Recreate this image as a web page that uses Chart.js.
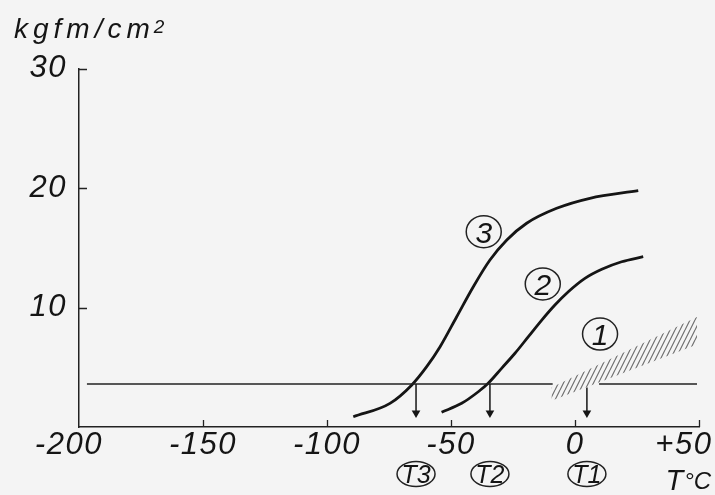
<!DOCTYPE html>
<html>
<head>
<meta charset="utf-8">
<script src="https://cdn.jsdelivr.net/npm/chart.js@4/dist/chart.umd.min.js"></script>
<style>
  html, body { margin: 0; padding: 0; background: #f4f4f4; }
  #wrap { width: 715px; height: 495px; }
</style>
</head>
<body>
<div id="wrap"><canvas id="c" width="715" height="495"></canvas></div>
<script>
// Axis ticks
const xTicks = [-200, -150, -100, -50, 0, 50];
const yTicks = [0, 10, 20, 30];

// Curve 3 (impact strength vs temperature)
const curve3X = [-89.4, -74.6, -65.9, -59.8, -54.4, -47.7, -41.0, -34.3, -27.5, -19.5, -7.4, 6.0, 25.5];
const curve3Y = [0.86, 1.98, 3.5, 5.05, 6.72, 9.23, 11.74, 13.97, 15.65, 17.05, 18.3, 19.14, 19.78];

// Curve 2
const curve2X = [-53.8, -45.7, -39.0, -35.0, -29.6, -24.2, -18.8, -13.4, -8.1, -2.7, 4.0, 10.8, 18.8, 27.5];
const curve2Y = [1.23, 1.98, 2.95, 3.66, 4.91, 6.17, 7.56, 8.95, 10.21, 11.32, 12.44, 13.2, 13.83, 14.25];

// Band 1 (scatter range), lower and upper edges
const bandX = [-9.5, 49.2];
const bandLow = [2.2, 6.9];
const bandHigh = [3.3, 9.2];

// Threshold level line, broken where band 1 crosses it
const levelY = 3.6;
const levelX = [-196.8, -9.0, null, 9.7, 49.2];

// Transition temperatures
const transNames = ['T3', 'T2', 'T1'];
const transX = [-64.1, -34.3, 4.8];
const transTop = [3.6, 3.6, 3.3];
const arrowHeadY = 1.17;

// Curve labels
const curveNames = ['1', '2', '3'];
const curveLabelX = [10.1, -13.0, -36.8];
const curveLabelY = [7.78, 11.97, 16.34];

const unitLabel = 'kgfm/cm';
const unitPower = '2';
const tempSymbol = 'T';
const tempUnit = '°C';
const tempLabelX = 36.5;

const FONT = "'Liberation Sans', Arial, sans-serif";
const INK = '#151515';

const pts = (xs, ys) => xs.map((x, i) => ({ x: x, y: ys[i] }));

function hatchPattern(ctx) {
  const c = document.createElement('canvas');
  c.width = 5; c.height = 10;
  const g = c.getContext('2d');
  g.strokeStyle = '#707070';
  g.lineWidth = 1.2;
  g.beginPath();
  for (let k = -1; k <= 1; k++) {
    g.moveTo(k * 5, 10);
    g.lineTo(k * 5 + 5, 0);
  }
  g.stroke();
  return ctx.createPattern(c, 'repeat');
}

const canvas = document.getElementById('c');
const ctx0 = canvas.getContext('2d');

const datasets = [
  {
    label: 'level',
    data: levelX.map(x => ({ x: x === null ? 0 : x, y: x === null ? null : levelY })),
    borderColor: '#222', borderWidth: 1.4, pointRadius: 0, spanGaps: false
  },
  {
    label: 'curve3', data: pts(curve3X, curve3Y),
    borderColor: INK, borderWidth: 2.8, pointRadius: 0, cubicInterpolationMode: 'monotone'
  },
  {
    label: 'curve2', data: pts(curve2X, curve2Y),
    borderColor: INK, borderWidth: 2.8, pointRadius: 0, cubicInterpolationMode: 'monotone'
  },
  {
    label: 'bandLow', data: pts(bandX, bandLow),
    borderWidth: 0, borderColor: 'rgba(0,0,0,0)', pointRadius: 0, fill: false
  },
  {
    label: 'bandHigh', data: pts(bandX, bandHigh),
    borderWidth: 0, borderColor: 'rgba(0,0,0,0)', pointRadius: 0,
    fill: '-1', backgroundColor: hatchPattern(ctx0)
  }
];

transX.forEach((x, i) => {
  datasets.push({
    label: 'arrow' + transNames[i],
    data: [{ x: x, y: transTop[i] }, { x: x, y: arrowHeadY }],
    borderColor: INK, borderWidth: 1.5,
    pointRadius: [0, 5], pointStyle: 'triangle', pointRotation: 180,
    pointBackgroundColor: INK, pointBorderColor: INK, pointBorderWidth: 0
  });
});

const decor = {
  id: 'decor',
  beforeDraw(chart) {
    const ctx = chart.ctx;
    ctx.save();
    ctx.fillStyle = '#f4f4f4';
    ctx.fillRect(0, 0, chart.width, chart.height);
    ctx.restore();
    ctx.letterSpacing = '1.5px';
  },
  afterDraw(chart) {
    const ctx = chart.ctx;
    const xs = chart.scales.x, ys = chart.scales.y;
    ctx.save();
    ctx.strokeStyle = '#222';
    ctx.lineWidth = 1.3;
    // inward tick marks
    const x0 = xs.getPixelForValue(-200), y0 = ys.getPixelForValue(0);
    ctx.beginPath();
    xTicks.slice(1).forEach(v => {
      const px = Math.round(xs.getPixelForValue(v)) + 0.5;
      ctx.moveTo(px, y0); ctx.lineTo(px, y0 - 7);
    });
    yTicks.slice(1).forEach(v => {
      const py = Math.round(ys.getPixelForValue(v)) + 0.5;
      ctx.moveTo(x0, py); ctx.lineTo(x0 + 8, py);
    });
    ctx.stroke();

    ctx.fillStyle = INK;
    ctx.textAlign = 'center';
    ctx.textBaseline = 'alphabetic';

    // circled curve numbers
    ctx.lineWidth = 1.5;
    ctx.letterSpacing = '0px';
    ctx.font = 'italic 30px ' + FONT;
    curveNames.forEach((t, i) => {
      const cx = xs.getPixelForValue(curveLabelX[i]);
      const cy = ys.getPixelForValue(curveLabelY[i]);
      ctx.beginPath();
      ctx.ellipse(cx, cy, 17.5, 16, 0, 0, Math.PI * 2);
      ctx.stroke();
      ctx.fillText(t, cx, cy + 11);
    });

    // circled transition temperatures below the axis
    ctx.font = 'italic 25px ' + FONT;
    transNames.forEach((t, i) => {
      const cx = xs.getPixelForValue(transX[i]);
      const cy = 474;
      ctx.beginPath();
      ctx.ellipse(cx, cy, 19, 12.5, 0, 0, Math.PI * 2);
      ctx.stroke();
      ctx.fillText(t, cx, cy + 9);
    });

    // temperature axis name: symbol then unit
    ctx.textAlign = 'left';
    const tx = xs.getPixelForValue(tempLabelX);
    ctx.font = 'italic 29px ' + FONT;
    ctx.fillText(tempSymbol, tx, 490);
    const tw = ctx.measureText(tempSymbol).width;
    ctx.font = 'italic 24px ' + FONT;
    ctx.fillText(tempUnit, tx + tw + 1, 489);

    // unit label
    ctx.font = 'italic 28px ' + FONT;
    ctx.letterSpacing = '5px';
    ctx.fillText(unitLabel, 14, 38);
    const w = ctx.measureText(unitLabel).width;
    ctx.font = 'italic 19px ' + FONT;
    ctx.letterSpacing = '0px';
    ctx.fillText(unitPower, 14 + w - 1, 33);
    ctx.restore();
    ctx.letterSpacing = '0px';
  }
};

new Chart(canvas, {
  type: 'line',
  data: { datasets: datasets },
  plugins: [decor],
  options: {
    responsive: false,
    devicePixelRatio: 1,
    animation: false,
    events: [],
    layout: { padding: { left: 0, right: 16, top: 68.5, bottom: 0 } },
    plugins: { legend: { display: false }, tooltip: { enabled: false }, title: { display: false } },
    scales: {
      x: {
        type: 'linear', min: -200, max: 50,
        afterBuildTicks: s => { s.ticks = xTicks.map(v => ({ value: v })); },
        afterFit: s => { s.height = 68; s.paddingLeft = 0; s.paddingRight = 0; },
        grid: { display: false, drawTicks: false },
        border: { display: true, color: '#222', width: 1.5 },
        ticks: {
          padding: 3, color: INK,
          font: { family: FONT, size: 31, style: 'italic', lineHeight: 1 },
          // the end labels sit left of their ticks, the last one stays on the canvas
          callback: v => (v > 0 ? '+' + v + '   ' : (v === -200 ? '-200  ' : String(v)))
        }
      },
      y: {
        type: 'linear', min: 0, max: 30,
        afterBuildTicks: s => { s.ticks = yTicks.slice(1).map(v => ({ value: v })); },
        afterFit: s => { s.width = 79; s.paddingTop = 0; s.paddingBottom = 0; },
        grid: { display: false, drawTicks: false },
        border: { display: true, color: '#222', width: 1.5 },
        ticks: {
          padding: 12, color: INK,
          font: { family: FONT, size: 31, style: 'italic', lineHeight: 1 }
        }
      }
    }
  }
});
</script>
</body>
</html>
